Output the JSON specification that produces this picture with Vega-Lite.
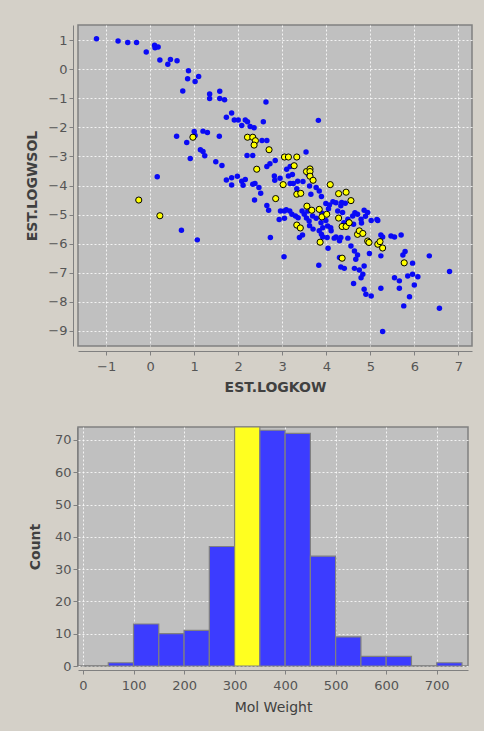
{
  "$schema": "https://vega.github.io/schema/vega-lite/v6.json",
  "background": "#d4d0c8",
  "padding": {"left": 25, "top": 24, "right": 12, "bottom": 18},
  "spacing": 30,
  "config": {
    "font": "DejaVu Sans",
    "view": {"fill": "#c0c0c0", "stroke": "#808080", "strokeWidth": 1.5},
    "axis": {
      "domainColor": "#808080",
      "tickColor": "#808080",
      "labelColor": "#555555",
      "titleColor": "#404040",
      "labelFontSize": 13,
      "titleFontSize": 14,
      "titleFontWeight": "bold",
      "gridColor": "#ffffff",
      "gridDash": [2, 2],
      "gridOpacity": 0.8,
      "tickSize": 4
    }
  },
  "datasets": {
    "scatter": [
      {"logkow": -1.22, "logwsol": 1.05, "sel": 0}, {"logkow": -0.73, "logwsol": 0.97, "sel": 0}, {"logkow": -0.51, "logwsol": 0.92, "sel": 0}, {"logkow": -0.31, "logwsol": 0.92, "sel": 0},
      {"logkow": -0.09, "logwsol": 0.59, "sel": 0}, {"logkow": 0.10, "logwsol": 0.82, "sel": 0}, {"logkow": 0.11, "logwsol": 0.74, "sel": 0}, {"logkow": 0.18, "logwsol": 0.76, "sel": 0},
      {"logkow": 0.22, "logwsol": 0.32, "sel": 0}, {"logkow": 0.40, "logwsol": 0.17, "sel": 0}, {"logkow": 0.46, "logwsol": 0.33, "sel": 0}, {"logkow": 0.61, "logwsol": 0.29, "sel": 0},
      {"logkow": 0.87, "logwsol": -0.05, "sel": 0}, {"logkow": 0.85, "logwsol": -0.33, "sel": 0}, {"logkow": 1.02, "logwsol": -0.42, "sel": 0}, {"logkow": 1.10, "logwsol": -0.25, "sel": 0},
      {"logkow": 0.74, "logwsol": -0.75, "sel": 0}, {"logkow": 1.35, "logwsol": -0.85, "sel": 0}, {"logkow": 1.35, "logwsol": -1.01, "sel": 0}, {"logkow": 1.58, "logwsol": -0.76, "sel": 0},
      {"logkow": 1.58, "logwsol": -1.01, "sel": 0}, {"logkow": 1.69, "logwsol": -1.05, "sel": 0}, {"logkow": 1.85, "logwsol": -1.51, "sel": 0}, {"logkow": 1.73, "logwsol": -1.65, "sel": 0},
      {"logkow": 1.91, "logwsol": -1.75, "sel": 0}, {"logkow": 2.0, "logwsol": -1.75, "sel": 0}, {"logkow": 2.08, "logwsol": -1.94, "sel": 0}, {"logkow": 2.16, "logwsol": -1.75, "sel": 0},
      {"logkow": 2.21, "logwsol": -1.81, "sel": 0}, {"logkow": 2.27, "logwsol": -1.97, "sel": 0}, {"logkow": 2.36, "logwsol": -2.01, "sel": 0}, {"logkow": 2.63, "logwsol": -1.13, "sel": 0},
      {"logkow": 2.57, "logwsol": -1.81, "sel": 0}, {"logkow": 3.82, "logwsol": -1.76, "sel": 0},
      {"logkow": 0.60, "logwsol": -2.31, "sel": 0}, {"logkow": 0.83, "logwsol": -2.52, "sel": 0}, {"logkow": 0.91, "logwsol": -3.07, "sel": 0}, {"logkow": 1.0, "logwsol": -2.14, "sel": 0},
      {"logkow": 1.02, "logwsol": -2.28, "sel": 0}, {"logkow": 1.20, "logwsol": -2.13, "sel": 0}, {"logkow": 1.30, "logwsol": -2.18, "sel": 0}, {"logkow": 1.14, "logwsol": -2.77, "sel": 0},
      {"logkow": 1.20, "logwsol": -2.83, "sel": 0}, {"logkow": 1.24, "logwsol": -2.98, "sel": 0}, {"logkow": 1.57, "logwsol": -2.31, "sel": 0}, {"logkow": 1.49, "logwsol": -3.18, "sel": 0},
      {"logkow": 1.63, "logwsol": -3.31, "sel": 0}, {"logkow": 0.16, "logwsol": -3.70, "sel": 0}, {"logkow": 0.71, "logwsol": -5.54, "sel": 0}, {"logkow": 1.07, "logwsol": -5.87, "sel": 0},
      {"logkow": 1.73, "logwsol": -3.81, "sel": 0}, {"logkow": 1.85, "logwsol": -3.73, "sel": 0}, {"logkow": 1.85, "logwsol": -3.98, "sel": 0}, {"logkow": 1.98, "logwsol": -3.68, "sel": 0},
      {"logkow": 2.08, "logwsol": -3.85, "sel": 0}, {"logkow": 2.11, "logwsol": -3.99, "sel": 0}, {"logkow": 2.16, "logwsol": -3.79, "sel": 0}, {"logkow": 2.33, "logwsol": -3.96, "sel": 0},
      {"logkow": 2.38, "logwsol": -3.93, "sel": 0}, {"logkow": 2.37, "logwsol": -4.50, "sel": 0}, {"logkow": 2.47, "logwsol": -4.07, "sel": 0}, {"logkow": 2.51, "logwsol": -4.27, "sel": 0},
      {"logkow": 2.65, "logwsol": -4.69, "sel": 0}, {"logkow": 2.69, "logwsol": -4.85, "sel": 0}, {"logkow": 2.73, "logwsol": -5.79, "sel": 0}, {"logkow": 2.20, "logwsol": -2.97, "sel": 0},
      {"logkow": 2.33, "logwsol": -2.97, "sel": 0}, {"logkow": 2.54, "logwsol": -2.45, "sel": 0}, {"logkow": 2.65, "logwsol": -2.45, "sel": 0}, {"logkow": 2.65, "logwsol": -3.35, "sel": 0},
      {"logkow": 2.72, "logwsol": -3.25, "sel": 0}, {"logkow": 2.84, "logwsol": -3.14, "sel": 0}, {"logkow": 2.82, "logwsol": -3.67, "sel": 0}, {"logkow": 2.83, "logwsol": -3.82, "sel": 0},
      {"logkow": 3.54, "logwsol": -2.85, "sel": 0}, {"logkow": 3.10, "logwsol": -3.44, "sel": 0}, {"logkow": 3.18, "logwsol": -3.35, "sel": 0}, {"logkow": 3.14, "logwsol": -3.67, "sel": 0},
      {"logkow": 3.23, "logwsol": -3.62, "sel": 0}, {"logkow": 3.35, "logwsol": -3.85, "sel": 0}, {"logkow": 3.33, "logwsol": -4.11, "sel": 0}, {"logkow": 3.18, "logwsol": -3.93, "sel": 0},
      {"logkow": 3.25, "logwsol": -3.93, "sel": 0}, {"logkow": 3.47, "logwsol": -3.86, "sel": 0}, {"logkow": 3.59, "logwsol": -3.62, "sel": 0}, {"logkow": 3.65, "logwsol": -4.30, "sel": 0},
      {"logkow": 3.62, "logwsol": -4.02, "sel": 0}, {"logkow": 3.77, "logwsol": -4.07, "sel": 0}, {"logkow": 3.84, "logwsol": -4.19, "sel": 0}, {"logkow": 3.89, "logwsol": -4.38, "sel": 0},
      {"logkow": 3.99, "logwsol": -4.62, "sel": 0}, {"logkow": 4.07, "logwsol": -4.67, "sel": 0}, {"logkow": 2.96, "logwsol": -4.88, "sel": 0}, {"logkow": 3.05, "logwsol": -4.88, "sel": 0},
      {"logkow": 3.09, "logwsol": -4.83, "sel": 0}, {"logkow": 2.93, "logwsol": -5.17, "sel": 0}, {"logkow": 3.05, "logwsol": -5.13, "sel": 0}, {"logkow": 3.17, "logwsol": -4.88, "sel": 0},
      {"logkow": 3.22, "logwsol": -4.99, "sel": 0}, {"logkow": 3.30, "logwsol": -5.05, "sel": 0}, {"logkow": 3.36, "logwsol": -5.11, "sel": 0}, {"logkow": 3.45, "logwsol": -4.88, "sel": 0},
      {"logkow": 3.50, "logwsol": -4.99, "sel": 0}, {"logkow": 3.55, "logwsol": -5.12, "sel": 0}, {"logkow": 3.61, "logwsol": -5.22, "sel": 0}, {"logkow": 3.62, "logwsol": -5.38, "sel": 0},
      {"logkow": 3.70, "logwsol": -5.50, "sel": 0}, {"logkow": 3.84, "logwsol": -5.56, "sel": 0}, {"logkow": 3.89, "logwsol": -5.68, "sel": 0}, {"logkow": 3.39, "logwsol": -5.79, "sel": 0},
      {"logkow": 3.46, "logwsol": -5.70, "sel": 0}, {"logkow": 3.04, "logwsol": -6.45, "sel": 0}, {"logkow": 3.83, "logwsol": -6.74, "sel": 0}, {"logkow": 4.04, "logwsol": -6.16, "sel": 0},
      {"logkow": 3.58, "logwsol": -4.88, "sel": 0}, {"logkow": 3.69, "logwsol": -5.05, "sel": 0}, {"logkow": 3.77, "logwsol": -5.13, "sel": 0}, {"logkow": 3.88, "logwsol": -5.28, "sel": 0},
      {"logkow": 3.99, "logwsol": -5.20, "sel": 0}, {"logkow": 3.92, "logwsol": -5.45, "sel": 0}, {"logkow": 4.03, "logwsol": -5.39, "sel": 0}, {"logkow": 4.11, "logwsol": -5.56, "sel": 0},
      {"logkow": 4.22, "logwsol": -5.77, "sel": 0}, {"logkow": 4.33, "logwsol": -5.79, "sel": 0}, {"logkow": 4.49, "logwsol": -5.81, "sel": 0}, {"logkow": 3.92, "logwsol": -5.77, "sel": 0},
      {"logkow": 4.02, "logwsol": -5.79, "sel": 0}, {"logkow": 4.18, "logwsol": -5.81, "sel": 0}, {"logkow": 4.15, "logwsol": -4.56, "sel": 0}, {"logkow": 4.22, "logwsol": -4.59, "sel": 0},
      {"logkow": 4.33, "logwsol": -4.70, "sel": 0}, {"logkow": 4.26, "logwsol": -4.88, "sel": 0}, {"logkow": 4.37, "logwsol": -4.93, "sel": 0}, {"logkow": 4.49, "logwsol": -5.16, "sel": 0},
      {"logkow": 4.60, "logwsol": -5.05, "sel": 0}, {"logkow": 4.71, "logwsol": -4.99, "sel": 0}, {"logkow": 4.79, "logwsol": -5.16, "sel": 0}, {"logkow": 4.86, "logwsol": -4.85, "sel": 0},
      {"logkow": 4.94, "logwsol": -4.93, "sel": 0}, {"logkow": 5.02, "logwsol": -5.20, "sel": 0}, {"logkow": 5.17, "logwsol": -5.20, "sel": 0}, {"logkow": 5.24, "logwsol": -5.70, "sel": 0},
      {"logkow": 5.28, "logwsol": -5.77, "sel": 0}, {"logkow": 5.47, "logwsol": -5.74, "sel": 0}, {"logkow": 5.55, "logwsol": -5.77, "sel": 0}, {"logkow": 5.70, "logwsol": -5.70, "sel": 0},
      {"logkow": 4.56, "logwsol": -6.08, "sel": 0}, {"logkow": 4.64, "logwsol": -6.25, "sel": 0}, {"logkow": 4.71, "logwsol": -6.39, "sel": 0}, {"logkow": 4.67, "logwsol": -6.54, "sel": 0},
      {"logkow": 4.98, "logwsol": -6.34, "sel": 0}, {"logkow": 5.24, "logwsol": -6.42, "sel": 0}, {"logkow": 4.33, "logwsol": -6.80, "sel": 0}, {"logkow": 4.41, "logwsol": -6.85, "sel": 0},
      {"logkow": 4.64, "logwsol": -6.85, "sel": 0}, {"logkow": 4.75, "logwsol": -6.91, "sel": 0}, {"logkow": 4.83, "logwsol": -7.05, "sel": 0}, {"logkow": 4.79, "logwsol": -7.17, "sel": 0},
      {"logkow": 4.86, "logwsol": -6.77, "sel": 0}, {"logkow": 4.62, "logwsol": -7.37, "sel": 0}, {"logkow": 4.86, "logwsol": -7.57, "sel": 0}, {"logkow": 4.90, "logwsol": -7.74, "sel": 0},
      {"logkow": 5.02, "logwsol": -7.80, "sel": 0}, {"logkow": 5.24, "logwsol": -7.53, "sel": 0}, {"logkow": 5.55, "logwsol": -7.17, "sel": 0}, {"logkow": 5.66, "logwsol": -7.28, "sel": 0},
      {"logkow": 5.66, "logwsol": -7.53, "sel": 0}, {"logkow": 5.85, "logwsol": -7.11, "sel": 0}, {"logkow": 5.96, "logwsol": -7.05, "sel": 0}, {"logkow": 6.08, "logwsol": -7.14, "sel": 0},
      {"logkow": 6.00, "logwsol": -7.42, "sel": 0}, {"logkow": 5.89, "logwsol": -7.83, "sel": 0}, {"logkow": 5.76, "logwsol": -8.14, "sel": 0}, {"logkow": 5.79, "logwsol": -6.27, "sel": 0},
      {"logkow": 5.74, "logwsol": -6.39, "sel": 0}, {"logkow": 5.96, "logwsol": -6.67, "sel": 0}, {"logkow": 6.34, "logwsol": -6.42, "sel": 0}, {"logkow": 6.80, "logwsol": -6.96, "sel": 0},
      {"logkow": 6.57, "logwsol": -8.22, "sel": 0}, {"logkow": 5.28, "logwsol": -9.02, "sel": 0}, {"logkow": 4.43, "logwsol": -4.61, "sel": 0}, {"logkow": 4.35, "logwsol": -4.58, "sel": 0},
      {"logkow": 4.65, "logwsol": -4.94, "sel": 0}, {"logkow": 4.89, "logwsol": -5.06, "sel": 0}, {"logkow": 4.62, "logwsol": -5.33, "sel": 0}, {"logkow": 4.80, "logwsol": -5.29, "sel": 0},
      {"logkow": 5.15, "logwsol": -5.17, "sel": 0}, {"logkow": 4.30, "logwsol": -6.48, "sel": 0}, {"logkow": 4.40, "logwsol": -5.28, "sel": 0}, {"logkow": 4.10, "logwsol": -5.45, "sel": 0},
      {"logkow": 4.30, "logwsol": -5.90, "sel": 0}, {"logkow": 3.90, "logwsol": -4.95, "sel": 0}, {"logkow": 4.05, "logwsol": -4.80, "sel": 0}, {"logkow": 2.95, "logwsol": -3.75, "sel": 0},
      {"logkow": 0.97, "logwsol": -2.34, "sel": 1}, {"logkow": -0.26, "logwsol": -4.50, "sel": 1}, {"logkow": 0.22, "logwsol": -5.04, "sel": 1}, {"logkow": 2.21, "logwsol": -2.34, "sel": 1},
      {"logkow": 2.33, "logwsol": -2.34, "sel": 1}, {"logkow": 2.39, "logwsol": -2.46, "sel": 1}, {"logkow": 2.36, "logwsol": -2.61, "sel": 1}, {"logkow": 2.42, "logwsol": -3.44, "sel": 1},
      {"logkow": 2.70, "logwsol": -2.77, "sel": 1}, {"logkow": 3.05, "logwsol": -3.02, "sel": 1}, {"logkow": 3.14, "logwsol": -3.02, "sel": 1}, {"logkow": 3.33, "logwsol": -3.02, "sel": 1},
      {"logkow": 3.27, "logwsol": -3.32, "sel": 1}, {"logkow": 3.02, "logwsol": -3.97, "sel": 1}, {"logkow": 2.85, "logwsol": -4.45, "sel": 1}, {"logkow": 3.33, "logwsol": -4.30, "sel": 1},
      {"logkow": 3.42, "logwsol": -4.27, "sel": 1}, {"logkow": 3.55, "logwsol": -3.52, "sel": 1}, {"logkow": 3.63, "logwsol": -3.43, "sel": 1}, {"logkow": 3.63, "logwsol": -3.52, "sel": 1},
      {"logkow": 3.63, "logwsol": -3.68, "sel": 1}, {"logkow": 3.70, "logwsol": -3.82, "sel": 1}, {"logkow": 4.09, "logwsol": -3.97, "sel": 1}, {"logkow": 4.28, "logwsol": -4.28, "sel": 1},
      {"logkow": 4.45, "logwsol": -4.23, "sel": 1}, {"logkow": 4.56, "logwsol": -4.52, "sel": 1}, {"logkow": 3.56, "logwsol": -4.71, "sel": 1}, {"logkow": 3.67, "logwsol": -4.85, "sel": 1},
      {"logkow": 3.84, "logwsol": -4.82, "sel": 1}, {"logkow": 3.90, "logwsol": -5.08, "sel": 1}, {"logkow": 4.01, "logwsol": -4.99, "sel": 1}, {"logkow": 3.33, "logwsol": -5.36, "sel": 1},
      {"logkow": 3.41, "logwsol": -5.46, "sel": 1}, {"logkow": 3.86, "logwsol": -5.95, "sel": 1}, {"logkow": 4.28, "logwsol": -5.12, "sel": 1}, {"logkow": 4.36, "logwsol": -5.41, "sel": 1},
      {"logkow": 4.45, "logwsol": -5.41, "sel": 1}, {"logkow": 4.52, "logwsol": -5.28, "sel": 1}, {"logkow": 4.71, "logwsol": -5.68, "sel": 1}, {"logkow": 4.75, "logwsol": -5.56, "sel": 1},
      {"logkow": 4.83, "logwsol": -5.65, "sel": 1}, {"logkow": 4.94, "logwsol": -5.91, "sel": 1}, {"logkow": 4.97, "logwsol": -5.96, "sel": 1}, {"logkow": 5.17, "logwsol": -6.02, "sel": 1},
      {"logkow": 5.22, "logwsol": -5.93, "sel": 1}, {"logkow": 5.28, "logwsol": -6.15, "sel": 1}, {"logkow": 4.36, "logwsol": -6.50, "sel": 1}, {"logkow": 5.77, "logwsol": -6.66, "sel": 1}
    ],
    "hist": [
      {"bin_start": 0, "bin_end": 50, "count": 0, "sel": 0},
      {"bin_start": 50, "bin_end": 100, "count": 1, "sel": 0},
      {"bin_start": 100, "bin_end": 150, "count": 13, "sel": 0},
      {"bin_start": 150, "bin_end": 200, "count": 10, "sel": 0},
      {"bin_start": 200, "bin_end": 250, "count": 11, "sel": 0},
      {"bin_start": 250, "bin_end": 300, "count": 37, "sel": 0},
      {"bin_start": 300, "bin_end": 350, "count": 74, "sel": 1},
      {"bin_start": 350, "bin_end": 400, "count": 73, "sel": 0},
      {"bin_start": 400, "bin_end": 450, "count": 72, "sel": 0},
      {"bin_start": 450, "bin_end": 500, "count": 34, "sel": 0},
      {"bin_start": 500, "bin_end": 550, "count": 9, "sel": 0},
      {"bin_start": 550, "bin_end": 600, "count": 3, "sel": 0},
      {"bin_start": 600, "bin_end": 650, "count": 3, "sel": 0},
      {"bin_start": 650, "bin_end": 700, "count": 0, "sel": 0},
      {"bin_start": 700, "bin_end": 750, "count": 1, "sel": 0}
    ]
  },
  "vconcat": [
    {
      "width": 394,
      "height": 321,
      "data": {"name": "scatter"},
      "encoding": {
        "x": {"field": "logkow", "type": "quantitative", "title": "EST.LOGKOW",
          "scale": {"domain": [-1.64, 7.31], "nice": false, "zero": false},
          "axis": {"values": [-1, 0, 1, 2, 3, 4, 5, 6, 7], "offset": 5, "labelPadding": 5, "titlePadding": 7}},
        "y": {"field": "logwsol", "type": "quantitative", "title": "EST.LOGWSOL",
          "scale": {"domain": [-9.52, 1.52], "nice": false, "zero": false},
          "axis": {"values": [-9, -8, -7, -6, -5, -4, -3, -2, -1, 0, 1], "offset": 5, "titlePadding": 8}}
      },
      "layer": [
        {"transform": [{"filter": "datum.sel == 0"}],
         "mark": {"type": "circle", "size": 30, "color": "#0a0af5", "opacity": 1}},
        {"transform": [{"filter": "datum.sel == 1"}],
         "mark": {"type": "point", "shape": "circle", "size": 38, "filled": true, "fill": "#ffff00", "stroke": "#000000", "strokeWidth": 1, "opacity": 1}}
      ]
    },
    {
      "width": 390,
      "height": 239,
      "data": {"name": "hist"},
      "mark": {"type": "bar", "orient": "vertical", "stroke": "#808080", "strokeWidth": 1.2},
      "encoding": {
        "x": {"field": "bin_start", "type": "quantitative", "title": "Mol Weight",
          "scale": {"domain": [0, 752], "nice": false, "zero": false},
          "axis": {"values": [0, 100, 200, 300, 400, 500, 600, 700], "offset": 4, "labelPadding": 5, "titleFontWeight": "normal", "titlePadding": 8}},
        "x2": {"field": "bin_end"},
        "y": {"field": "count", "type": "quantitative", "title": "Count",
          "scale": {"domain": [0, 74], "nice": false},
          "axis": {"values": [0, 10, 20, 30, 40, 50, 60, 70], "offset": 1, "titlePadding": 12}},
        "y2": {"datum": 0},
        "fill": {"field": "sel", "type": "nominal", "legend": null,
          "scale": {"domain": [0, 1], "range": ["#3c3cff", "#ffff20"]}}
      }
    }
  ]
}
